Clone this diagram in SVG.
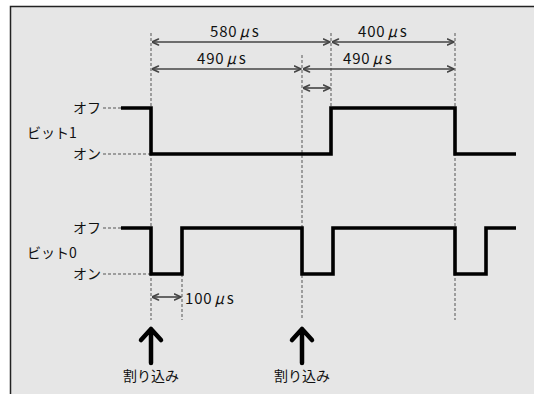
<svg xmlns="http://www.w3.org/2000/svg" width="534" height="394" viewBox="0 0 534 394">
<defs>
<marker id="ah" viewBox="0 0 8 8" refX="7.5" refY="4" markerWidth="8" markerHeight="8" markerUnits="userSpaceOnUse" orient="auto-start-reverse">
<path d="M1,1 L7.5,4 L1,7" fill="none" stroke="#444" stroke-width="1.6" stroke-linecap="round" stroke-linejoin="round"/>
</marker>
</defs>
<style>
text{font-family:"Noto Sans CJK JP","Noto Sans",sans-serif;fill:#111;font-size:14px}
.num{font-size:15px;letter-spacing:0.8px}
.mu{font-style:italic}
.dash{stroke:#555;stroke-width:1;stroke-dasharray:3,2;fill:none}
.dim{stroke:#444;stroke-width:1.6;fill:none;marker-start:url(#ah);marker-end:url(#ah)}
.sig{stroke:#000;stroke-width:3.6;fill:none;stroke-linejoin:miter}
.irq{stroke:#000;stroke-width:4.5;fill:none;stroke-linecap:round;stroke-linejoin:round}
</style>
<rect x="0" y="0" width="534" height="394" fill="#fff"/>
<rect x="10.5" y="6.5" width="530" height="400" fill="#e6e6e6" stroke="#222" stroke-width="1.5"/>

<g id="connectors">
<path class="dash" d="M151,33 V320 M182,274 V320 M302,55 V320 M331,33 V108 M455,33 V320"/>
<path class="dash" d="M103,108 H121 M103,154 H151 M103,228 H121 M103,274 H151"/>
<line class="dim" x1="152" y1="42" x2="330" y2="42"/>
<line class="dim" x1="332" y1="42" x2="454" y2="42"/>
<line class="dim" x1="152" y1="69" x2="301" y2="69"/>
<line class="dim" x1="303" y1="69" x2="454" y2="69"/>
<line class="dim" x1="303" y1="88" x2="330" y2="88"/>
<line class="dim" x1="152" y1="297" x2="181" y2="297"/>
</g>

<g id="dim-labels">
<text class="num" x="210" y="37">580<tspan class="mu" dx="2">μ</tspan><tspan dx="2">s</tspan></text>
<text class="num" x="358" y="37">400<tspan class="mu" dx="2">μ</tspan><tspan dx="2">s</tspan></text>
<text class="num" x="197" y="64">490<tspan class="mu" dx="2">μ</tspan><tspan dx="2">s</tspan></text>
<text class="num" x="343" y="64">490<tspan class="mu" dx="2">μ</tspan><tspan dx="2">s</tspan></text>
<text class="num" x="185" y="304">100<tspan class="mu" dx="2">μ</tspan><tspan dx="2">s</tspan></text>
</g>

<g id="bit1">
<text x="73" y="113">オフ</text>
<text x="73" y="159">オン</text>
<text x="27" y="138">ビット1</text>
<path class="sig" d="M121,108 H151 V154 H331 V108 H455 V154 H516"/>
</g>

<g id="bit0">
<text x="73" y="233">オフ</text>
<text x="73" y="279">オン</text>
<text x="27" y="258">ビット0</text>
<path class="sig" d="M121,228 H151 V274 H182 V228 H302 V274 H333 V228 H455 V274 H486 V228 H516"/>
</g>

<g id="irq1">
<path class="irq" d="M151,363 V329 M141,340 L151,329 L161,340"/>
<text x="151" y="381" text-anchor="middle">割り込み</text>
</g>
<g id="irq2">
<path class="irq" d="M302,363 V329 M292,340 L302,329 L312,340"/>
<text x="302" y="381" text-anchor="middle">割り込み</text>
</g>
</svg>
